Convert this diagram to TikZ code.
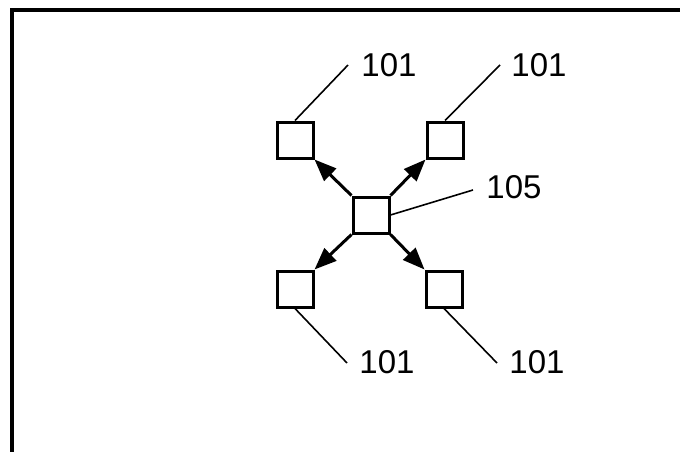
\documentclass[tikz,border=0pt]{standalone}
\usepackage{fontspec}
\setmainfont{Liberation Sans}
\usetikzlibrary{arrows.meta}
\tikzset{
  unit/.style={draw, line width=3pt, minimum size=36pt, inner sep=0pt},
  leader/.style={line width=1.6pt},
  flow/.style={line width=3pt, -{Triangle[length=22pt,width=17pt]}},
  num/.style={font=\fontsize{33}{36}\selectfont, inner sep=0pt}
}
\begin{document}
\begin{tikzpicture}[x=1pt,y=-1pt, line join=miter]
  \useasboundingbox (0,0) rectangle (680,452);
  % frame
  \draw[line width=3.5pt] (12,452)--(12,10)--(680,10);
  % hub and units
  \node[unit] (hub) at (371,215) {};
  \node[unit] (ul) at (295,140) {};
  \node[unit] (ur) at (445,140) {};
  \node[unit] (dl) at (295,289) {};
  \node[unit] (dr) at (444,289) {};
  % arrows
  \draw[flow] (hub.north west)--(ul.south east);
  \draw[flow] (hub.north east)--(ur.south west);
  \draw[flow] (hub.south west)--(dl.north east);
  \draw[flow] (hub.south east)--(dr.north west);
  % labels
  \node[num] (lul) at (389,65) {101};
  \node[num] (lur) at (539,65) {101};
  \node[num] (ldl) at (387,362) {101};
  \node[num] (ldr) at (537,362) {101};
  \node[num] (lhub) at (514,187) {105};
  \coordinate (eul) at (348,65);
  \coordinate (eur) at (500,65);
  \coordinate (edl) at (347,363);
  \coordinate (edr) at (497,363);
  \coordinate (ehub) at (473,190);
  \draw[leader] (ul.north)--(eul);
  \draw[leader] (ur.north)--(eur);
  \draw[leader] (dl.south)--(edl);
  \draw[leader] (dr.south)--(edr);
  \draw[leader] (hub.east)--(ehub);
\end{tikzpicture}
\end{document}
